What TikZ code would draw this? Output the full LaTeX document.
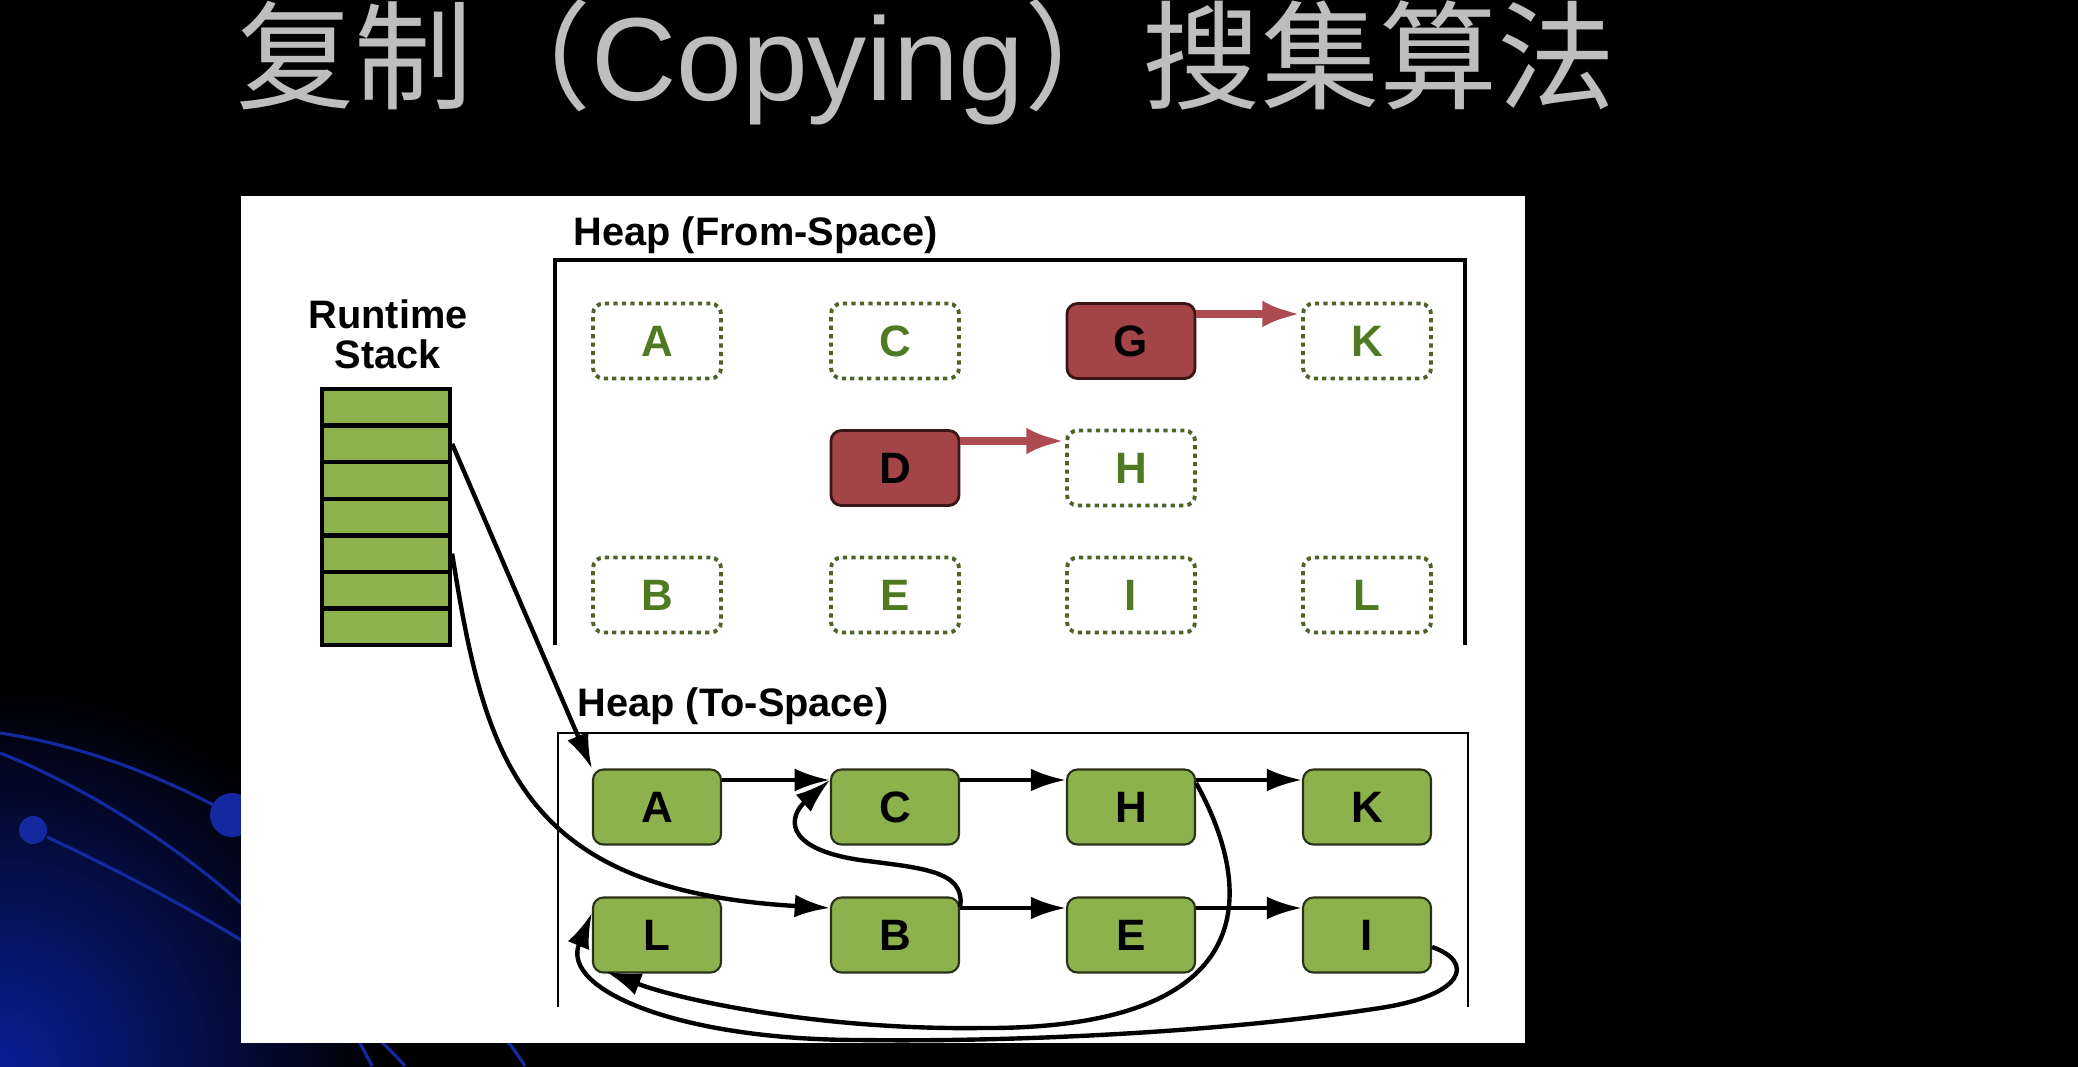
\documentclass[tikz,border=0pt]{standalone}
\usepackage{fontspec}
\setmainfont{Liberation Sans}
\newfontfamily\cjk{Noto Sans CJK SC}
\usepackage{tikz}
\usetikzlibrary{arrows.meta,calc}

\definecolor{objgreen}{RGB}{141,177,76}
\definecolor{objborder}{RGB}{40,50,25}
\definecolor{dotgreen}{RGB}{79,98,40}
\definecolor{lettergreen}{RGB}{79,122,33}
\definecolor{deadred}{RGB}{163,69,72}
\definecolor{deadborder}{RGB}{60,22,22}
\definecolor{fwdred}{RGB}{172,76,82}
\definecolor{titlegray}{RGB}{190,190,190}
\definecolor{glowblue}{RGB}{10,30,150}
\definecolor{lineblue}{RGB}{20,40,160}

\begin{document}
\begin{tikzpicture}[x=0.01cm, y=-0.01cm,
    every node/.style={font=\bfseries\fontsize{12.5}{14}\selectfont, inner sep=0pt},
    oldobj/.style={rectangle, rounded corners=3pt, draw=dotgreen, line width=1.1pt, dash pattern=on 1.2pt off 1.2pt, text=lettergreen, minimum width=1.28cm, minimum height=0.75cm},
    deadobj/.style={rectangle, rounded corners=3pt, draw=deadborder, line width=0.8pt, fill=deadred, minimum width=1.28cm, minimum height=0.75cm},
    newobj/.style={rectangle, rounded corners=3pt, draw=objborder, line width=0.6pt, fill=objgreen, minimum width=1.28cm, minimum height=0.75cm},
    slot/.style={rectangle, draw=black, line width=1.2pt, fill=objgreen, minimum width=1.28cm, minimum height=0.366cm},
    heading/.style={font=\bfseries\fontsize{11.3}{11.4}\selectfont},
    ptr/.style={-{Latex[length=10pt,width=6.5pt]}, line width=1.25pt},
    fwdptr/.style={-{Latex[length=11pt,width=7.5pt]}, line width=2.2pt, draw=fwdred}]

    \useasboundingbox (0,0) rectangle (2078,1066);
    \fill[black] (-20,-20) rectangle (2098,1086);
    \begin{scope}
        \clip (0,0) rectangle (2078,1066);
        \shade[inner color=glowblue, outer color=black] (0,1066) circle (380);
        \draw[lineblue, line width=0.9pt] (0,733) .. controls (80,745) and (160,775) .. (232,815);
        \draw[lineblue, line width=0.9pt] (232,815) .. controls (350,880) and (470,980) .. (525,1066);
        \draw[lineblue, line width=0.9pt] (0,753) .. controls (120,800) and (300,920) .. (372,1066);
        \draw[lineblue, line width=0.9pt] (47,837) .. controls (150,885) and (330,980) .. (405,1066);
        \fill[lineblue] (232,815) circle (22);
        \fill[lineblue] (33,830) circle (14);
    \end{scope}

    \fill[white] (241,196) rectangle (1525,1043);

    \node (title) [anchor=base west, text=titlegray, font=\cjk\fontsize{33.6}{40}\selectfont] at (236,100) {复制（{\rmfamily Copying}）搜集算法};

    \node (stacklbl) [heading, anchor=south, align=center] at (388,370) {Runtime\\Stack};
    \node (s1) [slot] at (386,407.3) {};
    \node (s2) [slot] at (386,443.9) {};
    \node (s3) [slot] at (386,480.5) {};
    \node (s4) [slot] at (386,517.1) {};
    \node (s5) [slot] at (386,553.7) {};
    \node (s6) [slot] at (386,590.3) {};
    \node (s7) [slot] at (386,626.9) {};

    \node (fromlbl) [heading, anchor=base west] at (573,245) {Heap (From-Space)};
    \draw[line width=0.95pt] (555,645) -- (555,260) -- (1465,260) -- (1465,645);

    \node (fA) [oldobj] at (657,341) {A};
    \node (fC) [oldobj] at (895,341) {C};
    \node (fG) [deadobj] at (1131,341) {G};
    \node (fK) [oldobj] at (1367,341) {K};
    \node (fD) [deadobj] at (895,468) {D};
    \node (fH) [oldobj] at (1131,468) {H};
    \node (fB) [oldobj] at (657,595) {B};
    \node (fE) [oldobj] at (895,595) {E};
    \node (fI) [oldobj] at (1131,595) {I};
    \node (fL) [oldobj] at (1367,595) {L};

    \draw[fwdptr] ([yshift=0.27cm]fG.east) -- ([yshift=0.27cm]fK.west);
    \draw[fwdptr] ([yshift=0.27cm]fD.east) -- ([yshift=0.27cm]fH.west);

    \node (tolbl) [heading, anchor=base west] at (577,716) {Heap (To-Space)};
    \draw[line width=0.55pt] (558,1007) -- (558,733) -- (1468,733) -- (1468,1007);

    \node (tA) [newobj] at (657,807) {A};
    \node (tC) [newobj] at (895,807) {C};
    \node (tH) [newobj] at (1131,807) {H};
    \node (tK) [newobj] at (1367,807) {K};
    \node (tL) [newobj] at (657,935) {L};
    \node (tB) [newobj] at (895,935) {B};
    \node (tE) [newobj] at (1131,935) {E};
    \node (tI) [newobj] at (1367,935) {I};

    \draw[ptr] ([yshift=0.27cm]tA.east) -- ([yshift=0.27cm]tC.west);
    \draw[ptr] ([yshift=0.27cm]tC.east) -- ([yshift=0.27cm]tH.west);
    \draw[ptr] ([yshift=0.27cm]tH.east) -- ([yshift=0.27cm]tK.west);
    \draw[ptr] ([yshift=0.27cm]tB.east) -- ([yshift=0.27cm]tE.west);
    \draw[ptr] ([yshift=0.27cm]tE.east) -- ([yshift=0.27cm]tI.west);

    \draw[ptr] (s2.east) -- (tA.north west);
    \draw[ptr] (s5.east) .. controls (485,760) and (520,890) .. ([yshift=0.27cm]tB.west);
    \draw[ptr] ([yshift=0.28cm]tB.east) .. controls (966,870) and (920,868) .. (860,860) .. controls (780,848) and (790,815) .. ([yshift=0.27cm]tC.west);
    \draw[ptr] ([yshift=0.24cm]tH.east) .. controls (1250,880) and (1275,1030) .. (980,1028) .. controls (820,1030) and (680,1000) .. ($(tL.south west)+(14,-2)$);
    \draw[ptr] ([yshift=-0.12cm]tI.east) .. controls (1475,962) and (1465,995) .. (1380,1008) .. controls (1210,1034) and (1000,1042) .. (860,1040) .. controls (680,1040) and (560,990) .. ([yshift=0.22cm]tL.west);
\end{tikzpicture}
\end{document}
